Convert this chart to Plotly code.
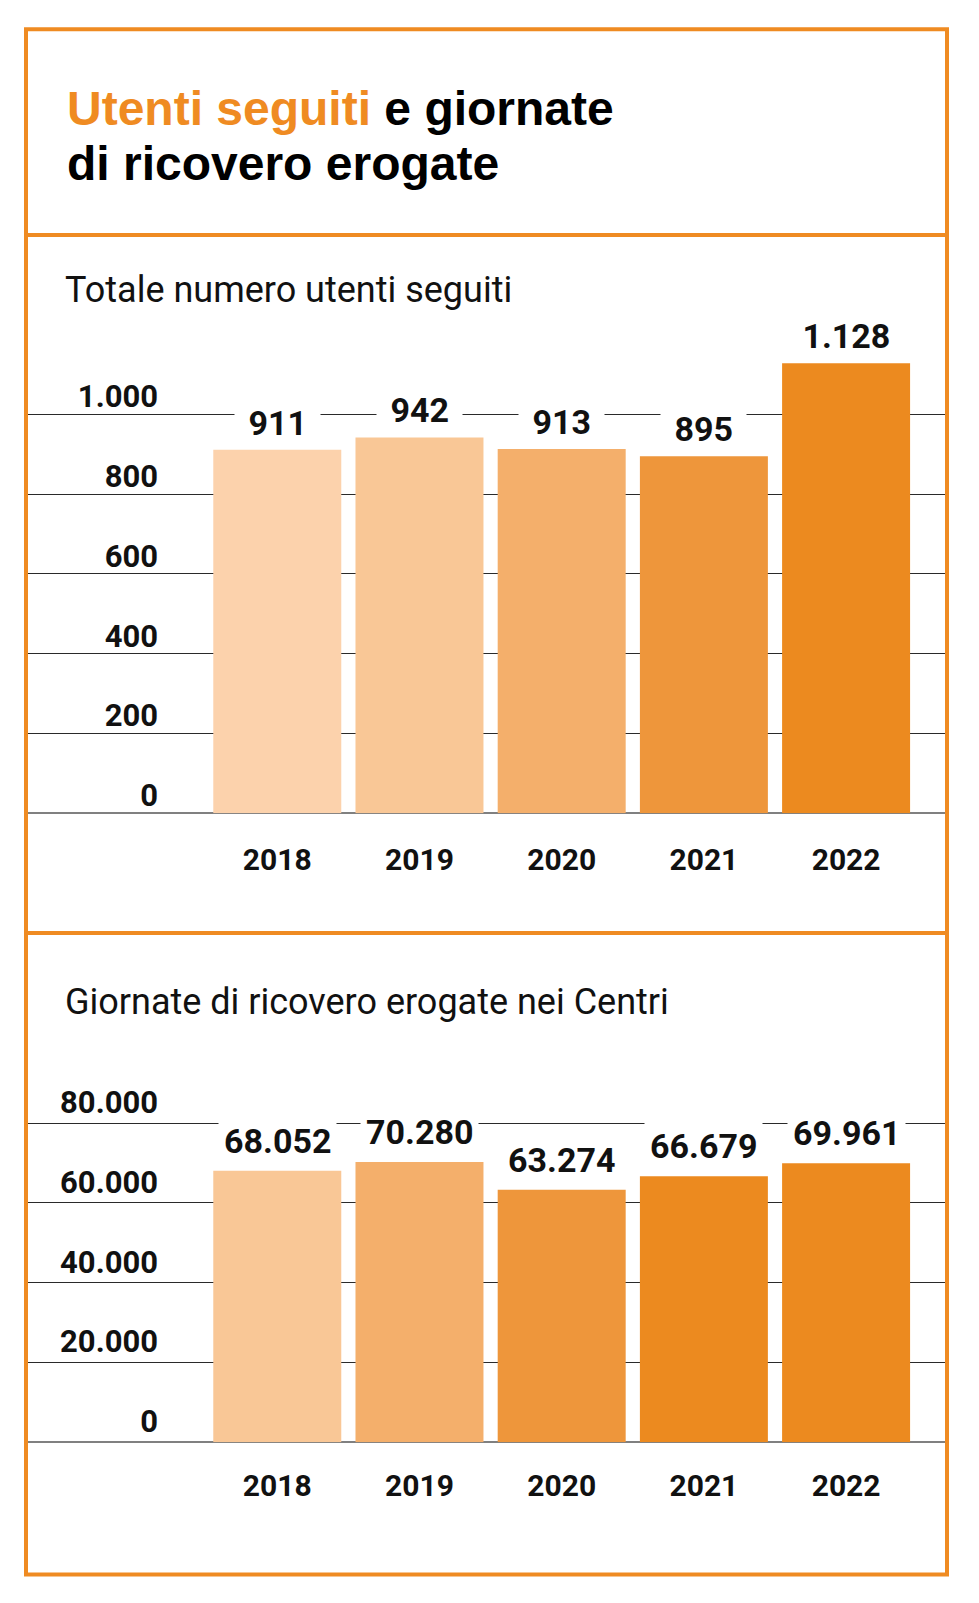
import plotly.graph_objects as go

# ---------------- data ----------------
years = ["2018", "2019", "2020", "2021", "2022"]
utenti = [911, 942, 913, 895, 1128]
giornate = [68052, 70280, 63274, 66679, 69961]

ticks_utenti = [0, 200, 400, 600, 800, 1000]
ticktext_utenti = ["0", "200", "400", "600", "800", "1.000"]
ticks_giornate = [0, 20000, 40000, 60000, 80000]
ticktext_giornate = ["0", "20.000", "40.000", "60.000", "80.000"]

title_orange = "Utenti seguiti"
title_rest1 = " e giornate"
title_line2 = "di ricovero erogate"
subtitle1 = "Totale numero utenti seguiti"
subtitle2 = "Giornate di ricovero erogate nei Centri"

colors_utenti = ["#FCD2AC", "#F9C796", "#F4AF6B", "#EE963B", "#EC8A1F"]
colors_giornate = ["#F9C796", "#F4AF6B", "#EE963B", "#EC8A1F", "#EC8A1F"]

# ---------------- geometry ----------------
# page is 979x1603; the figure div sits 8px inside the page (body margin)
OFF = 8
W, H = 979 - 2 * OFF, 1603 - 2 * OFF
ORANGE = "#EF8B22"


def px_x(p):
    return (p - OFF) / W


def px_y(p):
    return 1 - (p - OFF) / H


def fmt(v):
    return f"{v:,}".replace(",", ".")


NUM_FONT = "Roboto"
FRAME_L, FRAME_R = 26, 947

fig = go.Figure()
fig.add_trace(go.Bar(x=years, y=utenti, marker=dict(color=colors_utenti, line_width=0),
                     xaxis="x", yaxis="y", hoverinfo="skip"))
fig.add_trace(go.Bar(x=years, y=giornate, marker=dict(color=colors_giornate, line_width=0),
                     xaxis="x2", yaxis="y2", hoverinfo="skip"))

xdom = [px_x(FRAME_L), px_x(FRAME_R)]
xrange = [-1.767, 4.7096]

common_x = dict(domain=xdom, range=xrange, type="category", showgrid=False, zeroline=False,
                showline=False, ticks="", fixedrange=True,
                tickfont=dict(family=NUM_FONT, size=30, color="#111", weight="bold"))
common_y = dict(anchor="free", position=px_x(158), showline=False, ticks="",
                showgrid=True, gridcolor="#2a2a2a", gridwidth=1.1,
                zeroline=True, zerolinecolor="#808080", zerolinewidth=2,
                fixedrange=True,
                tickfont=dict(family=NUM_FONT, size=31, color="#111", weight="bold"))

y1_zero, y1_scale = 813.3, 0.399
y2_zero, y2_scale = 1442.3, 0.00399

fig.update_layout(
    width=W, height=H,
    margin=dict(l=0, r=0, t=0, b=0),
    paper_bgcolor="white", plot_bgcolor="rgba(0,0,0,0)",
    showlegend=False, bargap=0.1,
    xaxis=dict(anchor="y", ticklabelstandoff=26, **common_x),
    xaxis2=dict(anchor="y2", ticklabelstandoff=23, **common_x),
    yaxis=dict(domain=[px_y(y1_zero), px_y(y1_zero - 1300 * y1_scale)], range=[0, 1300],
               tickvals=ticks_utenti, ticktext=ticktext_utenti, ticklabelshift=-18,
               **common_y),
    yaxis2=dict(domain=[px_y(y2_zero), px_y(y2_zero - 100000 * y2_scale)], range=[0, 100000],
                tickvals=ticks_giornate, ticktext=ticktext_giornate, ticklabelshift=-21,
                **common_y),
)

annotations = []
# titles
annotations.append(dict(
    xref="paper", yref="paper", x=px_x(65), y=px_y(108.7), xanchor="left", yanchor="middle",
    text=f'<span style="color:{ORANGE}">{title_orange}</span>{title_rest1}',
    showarrow=False, font=dict(family="Liberation Sans", size=48, color="#000", weight="bold")))
annotations.append(dict(
    xref="paper", yref="paper", x=px_x(65), y=px_y(163.5), xanchor="left", yanchor="middle",
    text=title_line2, showarrow=False,
    font=dict(family="Liberation Sans", size=48, color="#000", weight="bold")))
annotations.append(dict(
    xref="paper", yref="paper", x=px_x(63), y=px_y(290.5), xanchor="left", yanchor="middle",
    text=subtitle1, showarrow=False, font=dict(family="Roboto", size=36, color="#111")))
annotations.append(dict(
    xref="paper", yref="paper", x=px_x(63), y=px_y(1001.5), xanchor="left", yanchor="middle",
    text=subtitle2, showarrow=False, font=dict(family="Roboto", size=36, color="#111")))

# value labels (x given as category index)
for i, v in enumerate(utenti):
    annotations.append(dict(
        xref="x", yref="y", x=i, y=v, yanchor="middle", yshift=27,
        text="\u00a0" + fmt(v) + "\u00a0", showarrow=False, bgcolor="white", borderpad=5,
        font=dict(family=NUM_FONT, size=34, color="#111", weight="bold")))
for i, v in enumerate(giornate):
    annotations.append(dict(
        xref="x2", yref="y2", x=i, y=v, yanchor="middle", yshift=30,
        text=fmt(v), showarrow=False, bgcolor="white", borderpad=5,
        font=dict(family=NUM_FONT, size=34, color="#111", weight="bold")))

fig.update_layout(annotations=annotations)

# frame
shapes = [
    dict(type="rect", xref="paper", yref="paper", x0=px_x(FRAME_L), x1=px_x(FRAME_R),
         y0=px_y(29.3), y1=px_y(1574.5), line=dict(color=ORANGE, width=4), layer="above"),
    dict(type="line", xref="paper", yref="paper", x0=px_x(FRAME_L), x1=px_x(FRAME_R),
         y0=px_y(235), y1=px_y(235), line=dict(color=ORANGE, width=4), layer="above"),
    dict(type="line", xref="paper", yref="paper", x0=px_x(FRAME_L), x1=px_x(FRAME_R),
         y0=px_y(933), y1=px_y(933), line=dict(color=ORANGE, width=4), layer="above"),
]
fig.update_layout(shapes=shapes)

fig.write_html("out.html", config={"displayModeBar": False})
